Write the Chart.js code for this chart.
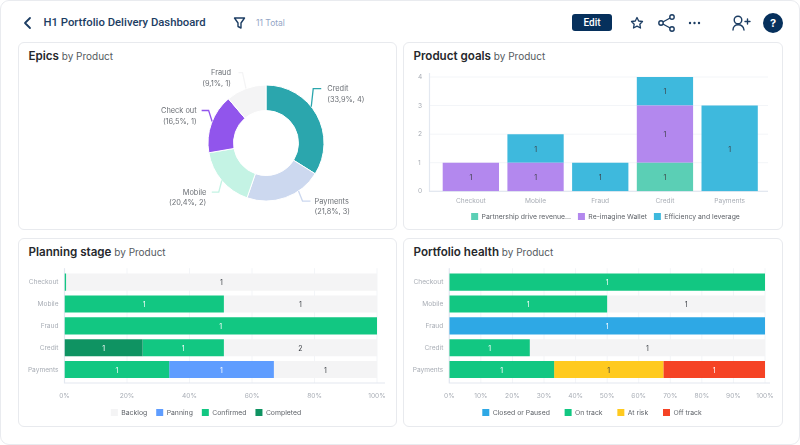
<!DOCTYPE html>
<html>
<head>
<meta charset="utf-8">
<title>H1 Portfolio Delivery Dashboard</title>
<script src="https://cdn.jsdelivr.net/npm/chart.js@4"></script>
<style>
  html, body { margin: 0; padding: 0; background: #fff; overflow: hidden; }
  body { width: 800px; height: 445px; position: relative; font-family: Inter, sans-serif; filter: blur(0.3px); }
  #frame { position: absolute; left: 0; top: 0; width: 798px; height: 443px; border: 1px solid #e9ebef; border-radius: 9px; }
  .card { position: absolute; box-sizing: border-box; border: 1px solid #e8eaee; border-radius: 6px; background: #fff; }
  .title { position: absolute; left: 9.5px; top: 5px; line-height: 16px; font-size: 10px; color: #555a60; white-space: nowrap; }
  .title b { font-size: 11.6px; font-weight: 600; color: #26282c; }
  canvas { position: absolute; }
  #heading { position: absolute; left: 43.5px; top: 15px; line-height: 16px; font-family: Roboto, sans-serif; font-weight: 500; font-size: 11.3px; color: #1c3d63; white-space: nowrap; }
  #total { position: absolute; left: 256px; top: 16px; line-height: 14px; font-size: 8.5px; color: #93a6c6; white-space: nowrap; }
  #edit { position: absolute; left: 572px; top: 14px; width: 40px; height: 17px; line-height: 17px; text-align: center; border-radius: 3px; background: #06305c; color: #fff; font-family: Roboto, sans-serif; font-weight: 500; font-size: 10px; }
  svg { position: absolute; overflow: visible; }
</style>
</head>
<body>
<div id="frame"></div>

<svg style="left:0;top:0" width="800" height="45" fill="none" stroke="#1c3d63" stroke-width="1.8" stroke-linecap="round" stroke-linejoin="round">
  <path d="M30 18 L25 23 L30 28"/>
  <path d="M234.5 18 H244.5 L241 23 V28 L238 26.5 V23 Z" stroke-width="1.4"/>
  <path d="M637 17.5 L638.7 21 L642.5 21.5 L639.8 24.2 L640.5 28 L637 26.2 L633.5 28 L634.2 24.2 L631.5 21.5 L635.3 21 Z" stroke-width="1.3"/>
  <path d="M672 17 L661 23 L672 29" stroke-width="1.4"/>
  <circle cx="672" cy="17" r="2.2" fill="#fff" stroke-width="1.4"/>
  <circle cx="661" cy="23" r="2.2" fill="#fff" stroke-width="1.4"/>
  <circle cx="672" cy="29" r="2.2" fill="#fff" stroke-width="1.4"/>
  <circle cx="690" cy="23" r="1.2" fill="#1c3d63" stroke="none"/>
  <circle cx="694.5" cy="23" r="1.2" fill="#1c3d63" stroke="none"/>
  <circle cx="699" cy="23" r="1.2" fill="#1c3d63" stroke="none"/>
  <circle cx="738" cy="20" r="3.8" stroke-width="1.4"/>
  <path d="M733 30 C733 23 743 23 744 30 M745 21.5 H750 M747.5 19 V24" stroke-width="1.4"/>
  <circle cx="773" cy="23" r="10" fill="#06305c" stroke="none"/>
</svg>
<div id="heading">H1 Portfolio Delivery Dashboard</div>
<div id="total">11 Total</div>
<div id="edit">Edit</div>
<div style="position:absolute;left:763px;top:15px;width:20px;line-height:16px;text-align:center;color:#fff;font-weight:700;font-size:11px">?</div>

<div class="card" style="left:18px;top:42px;width:379px;height:188px"><div class="title"><b>Epics</b> by Product</div></div>
<div class="card" style="left:403px;top:42px;width:380px;height:188px"><div class="title"><b>Product goals</b> by Product</div></div>
<div class="card" style="left:18px;top:238px;width:379px;height:189px"><div class="title"><b>Planning stage</b> by Product</div></div>
<div class="card" style="left:403px;top:238px;width:380px;height:189px"><div class="title"><b>Portfolio health</b> by Product</div></div>

<canvas id="chartEpics" style="left:136px;top:62px;width:260px;height:162px"></canvas>
<canvas id="chartGoals" style="left:415px;top:65px;width:378px;height:165px"></canvas>
<canvas id="chartStage" style="left:18px;top:262px;width:378px;height:164px"></canvas>
<canvas id="chartHealth" style="left:403px;top:262px;width:379px;height:164px"></canvas>

<script>
// Epics
var epicNames = ['Credit', 'Payments', 'Mobile', 'Check out', 'Fraud'];
var epicCaptions = ['(33,9%, 4)', '(21,8%, 3)', '(20,4%, 2)', '(16,5%, 1)', '(9,1%, 1)'];
var epicSlices = [33.9, 21.4, 17, 16.5, 11.2]; // slice sizes as drawn, the captions do not add up to 100
var epicColors = ['#2ba6ad', '#ccd8ef', '#c4f3e4', '#9155ec', '#f4f4f5'];

// Product goals
var goalProducts = ['Checkout', 'Mobile', 'Fraud', 'Credit', 'Payments'];
var goalPartnership = [0, 0, 0, 1, 0];
var goalWallet = [1, 1, 0, 2, 0];
var goalEfficiency = [0, 1, 1, 1, 3];
var goalPartnershipLabels = [null, null, null, 1, null];
var goalWalletLabels = [1, 1, null, 1, null];
var goalEfficiencyLabels = [null, 1, 1, 1, 1];
var goalTicks = [0, 1, 2, 3, 4];

// Planning stage, % of the bar
var stageProducts = ['Checkout', 'Mobile', 'Fraud', 'Credit', 'Payments'];
var stageCompleted = [0, 0, 0, 25, 0];
var stageConfirmed = [0.5, 51, 100, 26, 33.5];
var stagePanning = [0, 0, 0, 0, 33.5];
var stageBacklog = [99.5, 49, 0, 49, 33];
var stageCompletedLabels = [null, null, null, 1, null];
var stageConfirmedLabels = [null, 1, 1, 1, 1];
var stagePanningLabels = [null, null, null, null, 1];
var stageBacklogLabels = [1, 1, null, 2, 1];

// Portfolio health, % of the bar
var healthProducts = ['Checkout', 'Mobile', 'Fraud', 'Credit', 'Payments'];
var healthClosed = [0, 0, 100, 0, 0];
var healthOnTrack = [100, 50, 0, 25.5, 33.2];
var healthAtRisk = [0, 0, 0, 0, 34.6];
var healthOffTrack = [0, 0, 0, 0, 32.2];
var healthRest = [0, 50, 0, 74.5, 0];
var healthClosedLabels = [null, null, 1, null, null];
var healthOnTrackLabels = [1, 1, null, 1, 1];
var healthAtRiskLabels = [null, null, null, null, 1];
var healthOffTrackLabels = [null, null, null, null, 1];
var healthRestLabels = [null, 1, null, 1, null];

var TICK_COLOR = '#a8adb5';
var GRID_COLOR = '#f3f5f8';
var AXIS_COLOR = '#e3e8f0';

Chart.defaults.font.family = 'Inter, sans-serif';
Chart.defaults.font.size = 6.6;
Chart.defaults.animation = false;
Chart.defaults.responsive = false;
Chart.defaults.plugins.tooltip.enabled = false;

// number in the middle of each bar
var barLabelsPlugin = {
  id: 'barLabels',
  afterDatasetsDraw: function (chart) {
    var ctx = chart.ctx;
    ctx.save();
    ctx.font = '7px Inter, sans-serif';
    ctx.textAlign = 'center';
    ctx.textBaseline = 'middle';
    chart.data.datasets.forEach(function (ds, i) {
      chart.getDatasetMeta(i).data.forEach(function (bar, j) {
        if (ds.counts[j] === null) return;
        var p = bar.getCenterPoint();
        ctx.fillStyle = ds.countColor;
        ctx.fillText(ds.counts[j], p.x, p.y + 1);
      });
    });
    ctx.restore();
  }
};

// grid and axis lines run a little past the plot area, as in the dashboard
var axisLinesPlugin = {
  id: 'axisLines',
  beforeDatasetsDraw: function (chart, args, opts) {
    var ctx = chart.ctx;
    var a = chart.chartArea;
    var horizontal = chart.options.indexAxis === 'y';
    var scale = horizontal ? chart.scales.x : chart.scales.y;
    var left = a.left - opts.left;
    var right = a.right + opts.right;
    var top = a.top - opts.top;
    var bottom = a.bottom + opts.bottom;
    ctx.save();
    ctx.lineWidth = 1;
    ctx.strokeStyle = GRID_COLOR;
    scale.ticks.forEach(function (t, i) {
      var p = scale.getPixelForTick(i);
      ctx.beginPath();
      if (horizontal) { ctx.moveTo(p, top); ctx.lineTo(p, bottom); }
      else { ctx.moveTo(left, p); ctx.lineTo(right, p); }
      ctx.stroke();
    });
    ctx.lineWidth = 1.2;
    ctx.strokeStyle = AXIS_COLOR;
    ctx.beginPath();
    ctx.moveTo(left, top);
    ctx.lineTo(left, bottom);
    ctx.lineTo(right, bottom);
    ctx.stroke();
    ctx.restore();
  }
};

// the legends sit off the middle of the plot in the dashboard
var legendShiftPlugin = {
  id: 'legendShift',
  afterLayout: function (chart, args, opts) {
    chart.legend.left += opts.x;
    chart.legend.right += opts.x;
  }
};

// callouts of the doughnut: where on the slice, elbow offset, tip offset, text y
var calloutAt = [0.42, 0.31, 0.5, 0.53, 0.5];
var calloutElbowX = [2, 4, -3, -3.5, -3.5];
var calloutElbowY = [-18, 10, 11.5, -11, -16];
var calloutTip = [8, 8, -7, -7, -4];
var calloutGap = [6, 4, 5.5, 5, 7.5];

var calloutsPlugin = {
  id: 'callouts',
  afterDatasetsDraw: function (chart) {
    var ctx = chart.ctx;
    ctx.save();
    chart.getDatasetMeta(0).data.forEach(function (arc, i) {
      var angle = arc.startAngle + (arc.endAngle - arc.startAngle) * calloutAt[i];
      var x = arc.x + Math.cos(angle) * arc.outerRadius;
      var y = arc.y + Math.sin(angle) * arc.outerRadius;
      var ex = x + calloutElbowX[i];
      var ey = y + calloutElbowY[i];
      var tx = ex + calloutTip[i];
      ctx.strokeStyle = epicColors[i];
      ctx.lineWidth = 1.3;
      ctx.beginPath();
      ctx.moveTo(x, y);
      ctx.lineTo(ex, ey);
      ctx.lineTo(tx, ey);
      ctx.stroke();
      var side = calloutTip[i] > 0 ? 1 : -1;
      ctx.fillStyle = '#6c7076';
      ctx.font = '7.4px Inter, sans-serif';
      ctx.textAlign = side > 0 ? 'left' : 'right';
      ctx.textBaseline = 'middle';
      ctx.fillText(epicNames[i], tx + side * calloutGap[i], ey + 0.5);
      ctx.fillText(epicCaptions[i], tx + side * calloutGap[i], ey + 11);
    });
    ctx.restore();
  }
};

function legendOptions(pad) {
  return {
    position: 'bottom',
    labels: { boxWidth: 7, boxHeight: 7, padding: pad, color: '#5f6369', font: { size: 6.85 } }
  };
}

function barDataset(label, values, color, counts, countColor) {
  return {
    label: label,
    data: values,
    backgroundColor: color,
    counts: counts,
    countColor: countColor
  };
}

function fixedSize(prop, size) {
  return function (scale) { scale[prop] = size; };
}

function renderChartEpics() {
  new Chart(document.getElementById('chartEpics'), {
    type: 'doughnut',
    data: {
      labels: epicNames,
      datasets: [{ data: epicSlices, backgroundColor: epicColors, borderColor: '#fff', borderWidth: 1 }]
    },
    options: {
      radius: 58,
      cutout: '56%',
      plugins: { legend: { display: false } }
    },
    plugins: [calloutsPlugin]
  });
}

function renderChartGoals() {
  new Chart(document.getElementById('chartGoals'), {
    type: 'bar',
    data: {
      labels: goalProducts,
      datasets: [
        barDataset('Partnership drive revenue...', goalPartnership, '#5bcfb5', goalPartnershipLabels, '#3b3f45'),
        barDataset('Re-imagine Wallet', goalWallet, '#b388ee', goalWalletLabels, '#3b3f45'),
        barDataset('Efficiency and leverage', goalEfficiency, '#3eb9dd', goalEfficiencyLabels, '#3b3f45')
      ]
    },
    options: {
      categoryPercentage: 1,
      barPercentage: 0.87,
      layout: { padding: { left: 3, top: 12, right: 31 } },
      plugins: {
        legend: legendOptions(7),
        legendShift: { x: 15.5 },
        axisLines: { left: 9, right: 6, top: 4, bottom: 0 }
      },
      scales: {
        x: {
          stacked: true,
          grid: { display: false, drawTicks: false },
          border: { display: false },
          ticks: { color: TICK_COLOR, padding: 5.5 },
          afterFit: fixedSize('height', 14.7)
        },
        y: {
          stacked: true,
          min: 0,
          max: goalTicks[goalTicks.length - 1],
          grid: { display: false, drawTicks: false },
          border: { display: false },
          ticks: { color: TICK_COLOR, padding: 4, crossAlign: 'far', stepSize: 1 },
          afterFit: fixedSize('width', 20.5)
        }
      }
    },
    plugins: [axisLinesPlugin, barLabelsPlugin, legendShiftPlugin]
  });
}

function renderPercentChart(id, products, datasets, stepSize, opt) {
  new Chart(document.getElementById(id), {
    type: 'bar',
    data: { labels: products, datasets: datasets },
    options: {
      indexAxis: 'y',
      categoryPercentage: 1,
      barPercentage: 0.78,
      layout: { padding: { top: 9.2, right: opt.right } },
      plugins: {
        legend: opt.legend,
        legendShift: { x: opt.legendShift },
        axisLines: { left: 0, right: opt.overhang, top: 3, bottom: 2.5 }
      },
      scales: {
        x: {
          stacked: true,
          min: 0,
          max: 100,
          // tick padding also eats into the plot width, so the gap comes from tickLength
          grid: { display: false, drawTicks: true, tickLength: 8 },
          border: { display: false },
          ticks: {
            color: TICK_COLOR,
            padding: 3.5,
            stepSize: stepSize,
            autoSkip: false,
            maxRotation: 0,
            callback: function (v) { return v + '%'; }
          },
          afterFit: fixedSize('height', 19.5)
        },
        y: {
          stacked: true,
          grid: { display: false, drawTicks: true, tickLength: 1 },
          border: { display: false },
          ticks: { color: TICK_COLOR, padding: 5 },
          afterFit: fixedSize('width', opt.axisWidth)
        }
      }
    },
    plugins: [axisLinesPlugin, barLabelsPlugin, legendShiftPlugin]
  });
}

function renderChartStage() {
  var legend = legendOptions(9);
  legend.reverse = true;
  renderPercentChart('chartStage', stageProducts, [
    barDataset('Completed', stageCompleted, '#0f9362', stageCompletedLabels, '#fff'),
    barDataset('Confirmed', stageConfirmed, '#12c782', stageConfirmedLabels, '#fff'),
    barDataset('Panning', stagePanning, '#5f9dff', stagePanningLabels, '#fff'),
    barDataset('Backlog', stageBacklog, '#f4f4f5', stageBacklogLabels, '#3b3f45')
  ], 20, { right: 19, overhang: 8, axisWidth: 46.5, legend: legend, legendShift: 8.5 });
}

function renderChartHealth() {
  var legend = legendOptions(9);
  // wider gaps here than the legend padding leaves room for, the grey remainder stays out
  legend.labels.generateLabels = function (chart) {
    var items = Chart.defaults.plugins.legend.labels.generateLabels(chart);
    items.forEach(function (item) {
      if (item.text !== 'Off track') item.text += '\u00a0\u00a0\u00a0';
    });
    return items;
  };
  legend.labels.filter = function (item) { return item.text !== 'No status\u00a0\u00a0\u00a0'; };
  renderPercentChart('chartHealth', healthProducts, [
    barDataset('Closed or Paused', healthClosed, '#2ea8e5', healthClosedLabels, '#fff'),
    barDataset('On track', healthOnTrack, '#12c782', healthOnTrackLabels, '#fff'),
    barDataset('At risk', healthAtRisk, '#ffca1f', healthAtRiskLabels, '#3b3f45'),
    barDataset('Off track', healthOffTrack, '#f54325', healthOffTrackLabels, '#fff'),
    barDataset('No status', healthRest, '#f4f4f5', healthRestLabels, '#3b3f45')
  ], 10, { right: 17, overhang: 5, axisWidth: 46.3, legend: legend, legendShift: 8 });
}

function sizeCanvases() {
  var list = document.querySelectorAll('canvas');
  for (var i = 0; i < list.length; i++) {
    list[i].width = parseFloat(list[i].style.width);
    list[i].height = parseFloat(list[i].style.height);
  }
}

sizeCanvases();
renderChartEpics();
renderChartGoals();
renderChartStage();
renderChartHealth();
</script>
</body>
</html>
